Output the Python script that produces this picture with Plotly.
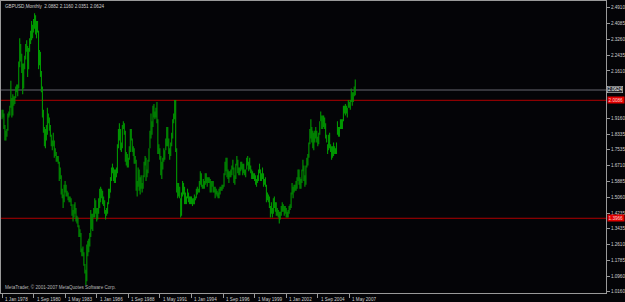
import datetime as dt
import plotly.graph_objects as go

# ---------------- data ----------------
symbol_title = "GBPUSD,Monthly"
last_bar_ohlc = ["2.0882", "2.1160", "2.0351", "2.0624"]
first_year = 1978

# monthly highs, one row per year (Jan..Dec), 2007 ends in November
bar_high = [
    1.96, 1.96, 1.94, 1.88, 1.85, 1.86, 1.94, 1.95, 1.98, 2.11, 2.02, 2.04,  # 1978
    2.03, 2.03, 2.08, 2.09, 2.09, 2.21, 2.33, 2.30, 2.25, 2.20, 2.20, 2.24,  # 1979
    2.30, 2.32, 2.29, 2.28, 2.33, 2.37, 2.42, 2.40, 2.43, 2.46, 2.45, 2.42,  # 1980
    2.42, 2.37, 2.27, 2.26, 2.16, 2.08, 1.96, 1.87, 1.86, 1.88, 1.97, 1.94,  # 1981
    1.92, 1.88, 1.83, 1.80, 1.84, 1.80, 1.76, 1.74, 1.72, 1.72, 1.69, 1.66,  # 1982
    1.62, 1.55, 1.52, 1.57, 1.59, 1.57, 1.54, 1.53, 1.51, 1.51, 1.50, 1.47,  # 1983
    1.44, 1.47, 1.48, 1.45, 1.41, 1.40, 1.36, 1.34, 1.32, 1.24, 1.25, 1.22,  # 1984
    1.16, 1.13, 1.26, 1.28, 1.29, 1.32, 1.44, 1.42, 1.42, 1.45, 1.50, 1.49,  # 1985
    1.45, 1.45, 1.50, 1.55, 1.56, 1.55, 1.54, 1.51, 1.49, 1.44, 1.45, 1.48,  # 1986
    1.55, 1.55, 1.61, 1.66, 1.68, 1.66, 1.65, 1.65, 1.66, 1.78, 1.86, 1.89,  # 1987
    1.86, 1.79, 1.88, 1.90, 1.89, 1.85, 1.74, 1.73, 1.71, 1.77, 1.86, 1.86,  # 1988
    1.81, 1.77, 1.76, 1.72, 1.70, 1.59, 1.66, 1.65, 1.61, 1.62, 1.58, 1.62,  # 1989
    1.69, 1.72, 1.71, 1.65, 1.70, 1.76, 1.85, 1.94, 1.90, 1.98, 1.99, 1.95,  # 1990
    1.97, 2.00, 1.91, 1.78, 1.76, 1.72, 1.69, 1.71, 1.76, 1.75, 1.81, 1.87,  # 1991
    1.87, 1.81, 1.76, 1.79, 1.84, 1.91, 1.94, 2.01, 2.01, 1.76, 1.58, 1.58,  # 1992
    1.56, 1.50, 1.53, 1.59, 1.58, 1.56, 1.53, 1.51, 1.55, 1.53, 1.51, 1.51,  # 1993
    1.51, 1.50, 1.50, 1.52, 1.51, 1.55, 1.56, 1.55, 1.59, 1.64, 1.63, 1.57,  # 1994
    1.60, 1.59, 1.63, 1.63, 1.61, 1.61, 1.61, 1.60, 1.59, 1.59, 1.59, 1.56,  # 1995
    1.56, 1.55, 1.54, 1.53, 1.55, 1.56, 1.56, 1.57, 1.57, 1.63, 1.69, 1.71,  # 1996
    1.71, 1.65, 1.64, 1.64, 1.65, 1.67, 1.70, 1.66, 1.62, 1.68, 1.72, 1.70,  # 1997
    1.66, 1.66, 1.69, 1.69, 1.68, 1.68, 1.65, 1.65, 1.71, 1.72, 1.69, 1.71,  # 1998
    1.67, 1.65, 1.64, 1.63, 1.63, 1.62, 1.60, 1.62, 1.65, 1.68, 1.65, 1.63,  # 1999
    1.66, 1.63, 1.60, 1.61, 1.57, 1.53, 1.52, 1.51, 1.46, 1.48, 1.45, 1.50,  # 2000
    1.51, 1.48, 1.48, 1.45, 1.44, 1.43, 1.43, 1.46, 1.48, 1.47, 1.46, 1.46,  # 2001
    1.45, 1.43, 1.44, 1.46, 1.47, 1.53, 1.58, 1.56, 1.57, 1.57, 1.59, 1.61,  # 2002
    1.65, 1.65, 1.61, 1.60, 1.65, 1.70, 1.67, 1.62, 1.67, 1.71, 1.73, 1.79,  # 2003
    1.86, 1.91, 1.87, 1.85, 1.84, 1.85, 1.87, 1.85, 1.82, 1.84, 1.90, 1.95,  # 2004
    1.93, 1.93, 1.93, 1.92, 1.89, 1.83, 1.78, 1.83, 1.84, 1.78, 1.77, 1.77,  # 2005
    1.79, 1.77, 1.76, 1.79, 1.90, 1.87, 1.87, 1.91, 1.91, 1.91, 1.98, 1.98,  # 2006
    1.99, 1.98, 1.97, 2.01, 2.00, 2.01, 2.07, 2.05, 2.05, 2.08, 2.116,       # 2007
]
bar_low = [
    1.91, 1.92, 1.86, 1.80, 1.80, 1.82, 1.85, 1.92, 1.93, 1.97, 1.92, 1.93,  # 1978
    1.98, 1.99, 2.02, 2.05, 2.03, 2.07, 2.18, 2.21, 2.15, 2.04, 2.07, 2.17,  # 1979
    2.22, 2.26, 2.13, 2.17, 2.26, 2.30, 2.32, 2.33, 2.36, 2.38, 2.35, 2.33,  # 1980
    2.36, 2.17, 2.19, 2.13, 2.05, 1.92, 1.84, 1.77, 1.76, 1.80, 1.83, 1.89,  # 1981
    1.85, 1.82, 1.77, 1.75, 1.77, 1.71, 1.72, 1.69, 1.69, 1.68, 1.59, 1.60,  # 1982
    1.52, 1.50, 1.45, 1.48, 1.53, 1.51, 1.51, 1.49, 1.48, 1.48, 1.46, 1.41,  # 1983
    1.38, 1.40, 1.42, 1.38, 1.37, 1.35, 1.30, 1.30, 1.22, 1.20, 1.20, 1.15,  # 1984
    1.11, 1.05, 1.07, 1.20, 1.22, 1.25, 1.30, 1.34, 1.33, 1.40, 1.40, 1.42,  # 1985
    1.38, 1.39, 1.42, 1.45, 1.48, 1.50, 1.47, 1.46, 1.42, 1.39, 1.41, 1.42,  # 1986
    1.47, 1.50, 1.53, 1.59, 1.63, 1.59, 1.58, 1.58, 1.61, 1.63, 1.76, 1.80,  # 1987
    1.75, 1.74, 1.76, 1.86, 1.83, 1.69, 1.67, 1.66, 1.66, 1.70, 1.74, 1.80,  # 1988
    1.74, 1.72, 1.68, 1.68, 1.54, 1.51, 1.56, 1.54, 1.52, 1.55, 1.53, 1.55,  # 1989
    1.61, 1.67, 1.59, 1.61, 1.63, 1.69, 1.76, 1.81, 1.83, 1.87, 1.92, 1.91,  # 1990
    1.92, 1.89, 1.73, 1.73, 1.70, 1.62, 1.60, 1.65, 1.69, 1.70, 1.75, 1.77,  # 1991
    1.77, 1.73, 1.70, 1.72, 1.77, 1.81, 1.89, 1.91, 1.74, 1.53, 1.50, 1.51,  # 1992
    1.50, 1.40, 1.41, 1.51, 1.52, 1.47, 1.47, 1.47, 1.50, 1.48, 1.47, 1.47,  # 1993
    1.47, 1.46, 1.47, 1.47, 1.49, 1.50, 1.52, 1.53, 1.53, 1.57, 1.56, 1.55,  # 1994
    1.55, 1.55, 1.57, 1.58, 1.56, 1.58, 1.58, 1.53, 1.53, 1.56, 1.53, 1.53,  # 1995
    1.50, 1.52, 1.51, 1.50, 1.50, 1.52, 1.54, 1.54, 1.55, 1.56, 1.62, 1.64,  # 1996
    1.61, 1.60, 1.58, 1.61, 1.61, 1.62, 1.65, 1.58, 1.57, 1.60, 1.67, 1.63,  # 1997
    1.62, 1.62, 1.64, 1.65, 1.62, 1.63, 1.62, 1.61, 1.65, 1.67, 1.64, 1.65,  # 1998
    1.63, 1.60, 1.60, 1.60, 1.59, 1.57, 1.56, 1.58, 1.59, 1.63, 1.59, 1.59,  # 1999
    1.60, 1.56, 1.57, 1.56, 1.48, 1.49, 1.48, 1.45, 1.40, 1.42, 1.40, 1.42,  # 2000
    1.45, 1.43, 1.41, 1.41, 1.40, 1.37, 1.39, 1.41, 1.43, 1.43, 1.41, 1.42,  # 2001
    1.40, 1.40, 1.40, 1.42, 1.44, 1.45, 1.52, 1.50, 1.53, 1.54, 1.54, 1.55,  # 2002
    1.59, 1.57, 1.55, 1.55, 1.58, 1.64, 1.59, 1.56, 1.57, 1.66, 1.67, 1.71,  # 2003
    1.78, 1.81, 1.79, 1.76, 1.75, 1.79, 1.81, 1.79, 1.77, 1.78, 1.83, 1.90,  # 2004
    1.86, 1.86, 1.87, 1.86, 1.81, 1.79, 1.73, 1.75, 1.76, 1.74, 1.70, 1.71,  # 2005
    1.72, 1.73, 1.73, 1.73, 1.83, 1.82, 1.82, 1.86, 1.86, 1.86, 1.90, 1.94,  # 2006
    1.93, 1.94, 1.92, 1.97, 1.97, 1.96, 2.00, 1.98, 2.00, 2.03, 2.035,       # 2007
]

x_tick_dates = ["1978-01-01", "1980-09-01", "1983-05-01", "1986-01-01",
                "1988-09-01", "1991-05-01", "1994-01-01", "1996-09-01",
                "1999-05-01", "2002-01-01", "2004-09-01", "2007-05-01"]
x_tick_text = ["1 Jan 1978", "1 Sep 1980", "1 May 1983", "1 Jan 1986",
               "1 Sep 1988", "1 May 1991", "1 Jan 1994", "1 Sep 1996",
               "1 May 1999", "1 Jan 2002", "1 Sep 2004", "1 May 2007"]
# labels hidden behind the price boxes in the reference are left out
y_tick_text = ["2.4910", "2.4085", "2.3260", "2.2435", "2.1610",
               "1.9160", "1.8335", "1.7535", "1.6710", "1.5885",
               "1.5060", "1.4235", "1.3435", "1.2610", "1.1785", "1.0960",
               "1.0160"]
close_price = 2.0624
red_levels = [2.0086, 1.3966]
red_level_text = ["2.0086", "1.3966"]
copyright_text = "MetaTrader, \u00a9 2001-2007 MetaQuotes Software Corp."

# ---------------- build ----------------
BG = "#040407"
BAR = "rgb(0,152,0)"
FRAME = "#9a9a9a"
TXT = "#d0d0d0"
FONT = "Liberation Sans"
FS = 4.6

months = []
for i in range(len(bar_high)):
    months.append(dt.date(first_year + i // 12, i % 12 + 1, 1))

xs, ys = [], []
for d, h, l in zip(months, bar_high, bar_low):
    xs += [d, d, None]
    ys += [l, h, None]

fig = go.Figure()
fig.add_trace(go.Scatter(x=xs, y=ys, mode="lines",
                         line=dict(color=BAR, width=1.1),
                         hoverinfo="skip", connectgaps=False))

# x range: ~30.84 days per pixel, first bar one pixel inside the frame
day_px = 30.844
x0 = dt.date(1978, 1, 1) - dt.timedelta(days=round(1 * day_px))
x1 = dt.date(1978, 1, 1) + dt.timedelta(days=round(604 * day_px))

shapes = [
    dict(type="line", xref="paper", x0=0, x1=1, yref="y", y0=close_price, y1=close_price,
         line=dict(color="rgb(70,70,78)", width=1.6), layer="below"),
]
for lv in red_levels:
    shapes.append(dict(type="line", xref="paper", x0=0, x1=1, yref="y", y0=lv, y1=lv,
                       line=dict(color="rgb(176,0,0)", width=1), layer="below"))

ann = []
ann.append(dict(text=f"{symbol_title}  " + " ".join(last_bar_ohlc),
                xref="paper", yref="paper", x=0, y=1, xanchor="left", yanchor="top",
                xshift=2, yshift=-1, showarrow=False,
                font=dict(family=FONT, size=FS, color=TXT)))
ann.append(dict(text=copyright_text, xref="paper", yref="paper", x=0, y=0,
                xanchor="left", yanchor="bottom", xshift=2, yshift=1, showarrow=False,
                font=dict(family=FONT, size=FS, color="#b8b8b8")))
for d, t in zip(x_tick_dates, x_tick_text):
    ann.append(dict(text=t, xref="x", yref="paper", x=d, y=0, xanchor="left", yanchor="top",
                    xshift=1, yshift=-1.5, showarrow=False,
                    font=dict(family=FONT, size=FS, color=TXT)))
ann.append(dict(text=f"{close_price:.4f}", xref="paper", yref="y", x=1, y=close_price,
                xanchor="left", yanchor="middle", xshift=1, showarrow=False,
                bgcolor="#2a2a30", bordercolor="#c8c8c8", borderwidth=0.6, borderpad=0.3,
                font=dict(family=FONT, size=FS, color="#ffffff")))
for lv, t in zip(red_levels, red_level_text):
    ann.append(dict(text=t, xref="paper", yref="y", x=1, y=lv,
                    xanchor="left", yanchor="middle", xshift=1, showarrow=False,
                    bgcolor="#e00000", borderpad=0.6,
                    font=dict(family=FONT, size=FS, color="#ffd0d0")))

fig.update_layout(
    width=625, height=302,
    margin=dict(l=1, r=19, t=1, b=9),
    paper_bgcolor=BG, plot_bgcolor=BG,
    showlegend=False,
    shapes=shapes, annotations=ann,
    xaxis=dict(type="date", range=[x0, x1], showgrid=False, zeroline=False,
               showline=True, linecolor=FRAME, linewidth=1, mirror=True,
               ticks="outside", ticklen=4, tickcolor=FRAME, tickwidth=1,
               tickvals=x_tick_dates, showticklabels=False, fixedrange=True),
    yaxis=dict(side="right", range=[1.0090, 2.5237], showgrid=False, zeroline=False,
               showline=True, linecolor=FRAME, linewidth=1, mirror=True,
               ticks="outside", ticklen=3, tickcolor=FRAME, tickwidth=1,
               tickvals=[float(t) for t in y_tick_text], ticktext=y_tick_text,
               tickfont=dict(family=FONT, size=FS, color=TXT), automargin=False,
               fixedrange=True),
)

fig.write_html("out.html")
